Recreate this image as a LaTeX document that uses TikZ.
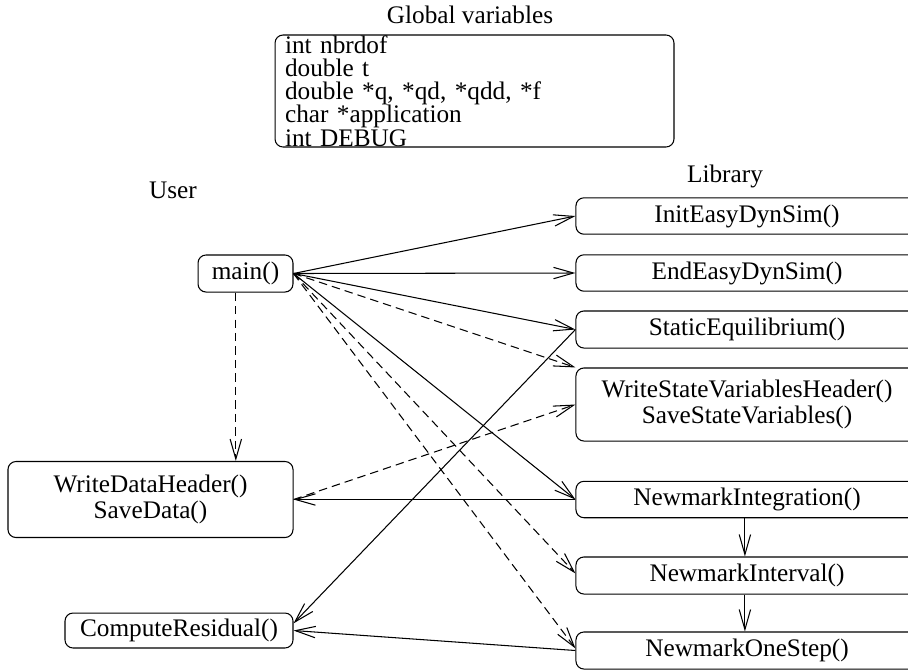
\documentclass[tikz,border=0pt]{standalone}
\usepackage{fontspec}
\setmainfont{Liberation Serif}
\usetikzlibrary{arrows.meta}

\tikzset{
  fbox/.style={draw,rounded corners=3.8pt,inner sep=0pt,align=center,
    font=\fontsize{12}{12.5}\selectfont},
  libbox/.style={fbox,minimum width=162.5pt,minimum height=17.3pt},
  lbl/.style={inner sep=0pt,font=\fontsize{12}{12}\selectfont},
  call/.style={-{Straight Barb[length=9.5pt,width=5.4pt]}},
  ddash/.style={dash pattern=on 4pt off 2.4pt}
}

\begin{document}
\begin{tikzpicture}[x=0.475pt,y=-0.475pt,line width=0.5pt]
\clip (0,0) rectangle (908,671);

\node[lbl] (gvtitle) at (470,15) {Global variables};
\node[draw,rounded corners=3.8pt,inner ysep=0pt,inner xsep=4.75pt,
  text width=180pt,align=left,minimum height=53.2pt,
  font=\fontsize{12}{11}\selectfont] (gv) at (474.5,91)
  {int nbrdof\\double t\\double *q, *qd, *qdd, *f\\char *application\\int DEBUG};

\node[lbl] (user) at (173,190) {User};
\node[lbl] (lib) at (725,176) {Library};

\node[libbox] (init) at (747,216) {InitEasyDynSim()};
\node[libbox] (endsim) at (747,273) {EndEasyDynSim()};
\node[libbox,minimum height=17.6pt] (static) at (747,329.5) {StaticEquilibrium()};
\node[libbox,minimum height=34.7pt] (wsvh) at (747,404.5)
  {WriteStateVariablesHeader()\\SaveStateVariables()};
\node[libbox] (nint) at (747,499.5) {NewmarkIntegration()};
\node[libbox,minimum height=17.6pt] (nival) at (747,575.5) {NewmarkInterval()};
\node[libbox,minimum height=17.6pt] (nos) at (747,650.5) {NewmarkOneStep()};

\node[fbox,minimum width=45.1pt,minimum height=17.6pt] (main) at (245.5,273.5) {main()};
\node[fbox,minimum width=135.4pt,minimum height=36.1pt] (wdh) at (150.5,499.5)
  {WriteDataHeader()\\SaveData()};
\node[fbox,minimum width=108.3pt,minimum height=16.6pt] (cr) at (179,630.5) {ComputeResidual()};

\draw[call] (main.east) -- (init.west);
\draw[call] (main.east) -- (endsim.west);
\draw[call] (main.east) -- (static.west);
\draw[call,ddash] (main.east) -- (wsvh.north west);
\draw[call] (main.east) -- (nint.west);
\draw[call,ddash] (main.east) -- ([yshift=1pt]nival.west);
\draw[call,ddash] (main.east) -- ([yshift=1pt]nos.west);
\draw[call,ddash] ([xshift=-4.6pt]main.south) -- ([xshift=-4.6pt]main.south |- wdh.north);

\draw[call] (nint.west) -- (wdh.east);
\draw[call,ddash] (wdh.east) -- (wsvh.west);
\draw[call] (static.west) -- ([yshift=3.4pt]cr.east);
\draw[call] (nos.west) -- (cr.east);
\draw[call] ([xshift=-1pt]nint.south) -- ([xshift=-1pt]nival.north);
\draw[call] ([xshift=-1pt]nival.south) -- ([xshift=-1pt]nos.north);
\end{tikzpicture}
\end{document}
